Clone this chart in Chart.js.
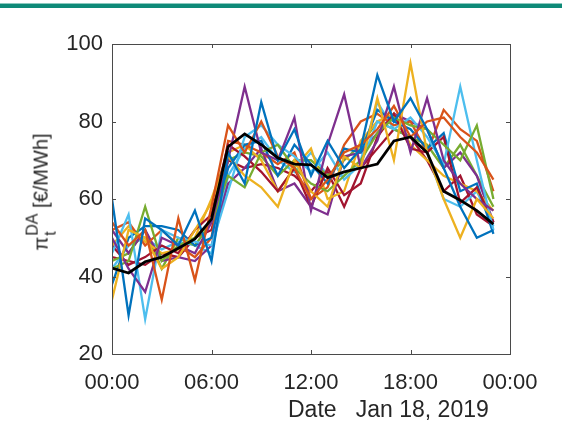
<!DOCTYPE html>
<html>
<head>
<meta charset="utf-8">
<script src="https://cdn.jsdelivr.net/npm/chart.js@4"></script>
<style>
  html, body { margin: 0; padding: 0; background: #fff; }
  #wrap { position: relative; width: 562px; height: 432px; overflow: hidden; }
  #bar { position: absolute; left: 0; top: 3px; width: 562px; height: 4px; background: #0f8a78; border-top: 1px solid #8cc9bf; }
  #ylab { position: absolute; left: 42px; top: 192px; transform: translate(-50%, -50%) rotate(-90deg);
          font-family: "Liberation Sans", Arial, sans-serif; font-size: 20px; color: #262626; white-space: nowrap; }
  #ylab .ss { display: inline-block; vertical-align: middle; line-height: 1.15; font-size: 16px; text-align: left; margin-left: 1px; }
  #xlab { position: absolute; left: 288px; top: 396px; font-family: "Liberation Sans", Arial, sans-serif;
          font-size: 23px; color: #262626; white-space: pre; }
  canvas { position: absolute; left: 0; top: 0; }
</style>
</head>
<body>
<div id="wrap">
  <div id="bar"></div>
  <canvas id="chart" width="562" height="432"></canvas>
  <div id="ylab">π<span class="ss">DA<br>t</span> [€/MWh]</div>
  <div id="xlab">Date   Jan 18, 2019</div>
</div>
<script>
document.addEventListener('DOMContentLoaded', function() {
    // horas del día
    const hours = [0, 1, 2, 3, 4, 5, 6, 7, 8, 9, 10, 11, 12, 13, 14, 15, 16, 17, 18, 19, 20, 21, 22, 23];
    const xTicks = [0, 6, 12, 18, 24];
    const yTicks = [20, 40, 60, 80, 100];

    // días históricos
    const blue1 = [60, 30, 55, 52, 48, 57, 44, 72, 64, 85, 70, 78, 66, 75, 68, 73, 92, 80, 86, 78, 68, 58, 50, 52];
    const orange1 = [54, 48, 52, 34, 55, 39, 58, 79, 72, 80, 71, 68, 60, 65, 72, 74, 78, 84, 76, 80, 81, 76, 72, 65];
    const yellow1 = [34, 52, 50, 42, 45, 52, 59, 71, 66, 63, 58, 70, 62, 58, 71, 68, 86, 70, 95, 72, 60, 50, 60, 55];
    const purple1 = [50, 42, 36, 50, 48, 46, 54, 70, 89, 72, 70, 81, 57, 74, 87, 68, 75, 89, 72, 86, 70, 64, 60, 57];
    const green1 = [42, 44, 58, 44, 48, 50, 54, 66, 63, 72, 74, 68, 64, 62, 66, 70, 77, 81, 79, 78, 74, 70, 79, 60];
    const lightBlue1 = [46, 56, 29, 52, 50, 49, 48, 62, 76, 79, 74, 71, 67, 72, 65, 69, 80, 78, 81, 76, 69, 89, 70, 52];
    const darkRed1 = [48, 43, 45, 48, 46, 52, 56, 74, 71, 67, 62, 68, 58, 68, 61, 64, 76, 82, 73, 72, 76, 59, 63, 54];
    const blue2 = [38, 50, 53, 53, 52, 48, 50, 68, 74, 75, 66, 74, 69, 64, 73, 72, 83, 80, 78, 73, 77, 62, 64, 51];
    const orange2 = [52, 54, 48, 52, 48, 45, 50, 75, 74, 72, 69, 72, 60, 63, 74, 80, 82, 79, 80, 72, 83, 78, 75, 62];
    const yellow2 = [48, 53, 49, 46, 47, 50, 60, 72, 74, 70, 62, 68, 73, 60, 62, 75, 80, 82, 74, 70, 66, 64, 62, 57];
    const purple2 = [52, 46, 52, 44, 45, 44, 48, 64, 68, 73, 62, 64, 58, 56, 71, 72, 77, 82, 80, 78, 68, 72, 66, 54];
    const green2 = [44, 46, 52, 42, 50, 48, 54, 70, 72, 71, 66, 70, 70, 66, 70, 74, 80, 78, 76, 74, 68, 74, 66, 58];
    const lightBlue2 = [42, 48, 50, 47, 49, 48, 46, 66, 73, 76, 70, 67, 72, 66, 66, 70, 85, 78, 76, 72, 60, 58, 62, 53];
    const darkRed2 = [45, 44, 43, 46, 45, 50, 52, 70, 68, 69, 68, 66, 62, 67, 58, 68, 73, 78, 76, 70, 62, 66, 56, 53];

    // curva negra
    const meanPrice = [42.2, 40.9, 43.8, 45, 47.3, 49.7, 54.8, 73.5, 76.8, 74, 70.6, 69, 68.8, 65.5, 67, 68, 69, 75, 76, 72, 62, 59.7, 57, 53.5];

    const colors = {
        blue: '#0072BD',
        orange: '#D95319',
        yellow: '#EDB120',
        purple: '#7E2F8E',
        green: '#77AC30',
        lightBlue: '#4DBEEE',
        darkRed: '#A2142F'
    };

    const series = [
        [blue1, colors.blue], [orange1, colors.orange], [yellow1, colors.yellow], [purple1, colors.purple],
        [green1, colors.green], [lightBlue1, colors.lightBlue], [darkRed1, colors.darkRed],
        [blue2, colors.blue], [orange2, colors.orange], [yellow2, colors.yellow], [purple2, colors.purple],
        [green2, colors.green], [lightBlue2, colors.lightBlue], [darkRed2, colors.darkRed]
    ];

    const toPoints = arr => arr.map((v, i) => ({ x: hours[i], y: v }));

    const datasets = series.map(s => ({
        data: toPoints(s[0]),
        borderColor: s[1],
        borderWidth: 2.3,
        pointRadius: 0,
        tension: 0,
        order: 1
    }));
    datasets.push({
        data: toPoints(meanPrice),
        borderColor: '#000000',
        borderWidth: 2.8,
        pointRadius: 0,
        tension: 0,
        order: 0
    });

    const axisColor = '#4a4a4a';
    const tickFont = { family: '"Liberation Sans", Arial, sans-serif', size: 22 };

    // caja y marcas hacia dentro (estilo MATLAB)
    const boxPlugin = {
        id: 'box',
        afterDraw(chart) {
            const ctx = chart.ctx;
            const a = chart.chartArea;
            const xs = chart.scales.x, ys = chart.scales.y;
            const len = 4;
            ctx.save();
            ctx.strokeStyle = axisColor;
            ctx.lineWidth = 1;
            ctx.strokeRect(Math.round(a.left) + 0.5, Math.round(a.top) + 0.5,
                Math.round(a.right - a.left), Math.round(a.bottom - a.top));
            ctx.beginPath();
            xTicks.forEach(t => {
                const px = Math.round(xs.getPixelForValue(t)) + 0.5;
                ctx.moveTo(px, a.bottom); ctx.lineTo(px, a.bottom - len);
                ctx.moveTo(px, a.top); ctx.lineTo(px, a.top + len);
            });
            yTicks.forEach(t => {
                const py = Math.round(ys.getPixelForValue(t)) + 0.5;
                ctx.moveTo(a.left, py); ctx.lineTo(a.left + len, py);
                ctx.moveTo(a.right, py); ctx.lineTo(a.right - len, py);
            });
            ctx.stroke();
            ctx.restore();
        }
    };

    new Chart(document.getElementById('chart'), {
        type: 'line',
        data: { datasets: datasets },
        options: {
            responsive: false,
            animation: false,
            layout: { padding: { left: 0, right: 52, top: 44, bottom: 0 } },
            plugins: {
                legend: { display: false },
                tooltip: { enabled: false }
            },
            scales: {
                x: {
                    type: 'linear',
                    min: 0,
                    max: 24,
                    afterBuildTicks: scale => { scale.ticks = xTicks.map(v => ({ value: v })); },
                    afterFit: scale => { scale.height = 78; },
                    grid: { display: false, drawTicks: false },
                    border: { display: false },
                    ticks: {
                        color: '#262626',
                        font: tickFont,
                        padding: 16,
                        maxRotation: 0,
                        callback: v => String(v % 24).padStart(2, '0') + ':00'
                    }
                },
                y: {
                    min: 20,
                    max: 100,
                    afterBuildTicks: scale => { scale.ticks = yTicks.map(v => ({ value: v })); },
                    afterFit: scale => { scale.width = 112; },
                    grid: { display: false, drawTicks: false },
                    border: { display: false },
                    ticks: {
                        color: '#262626',
                        font: tickFont,
                        padding: 9
                    }
                }
            }
        },
        plugins: [boxPlugin]
    });
});
</script>
</body>
</html>
